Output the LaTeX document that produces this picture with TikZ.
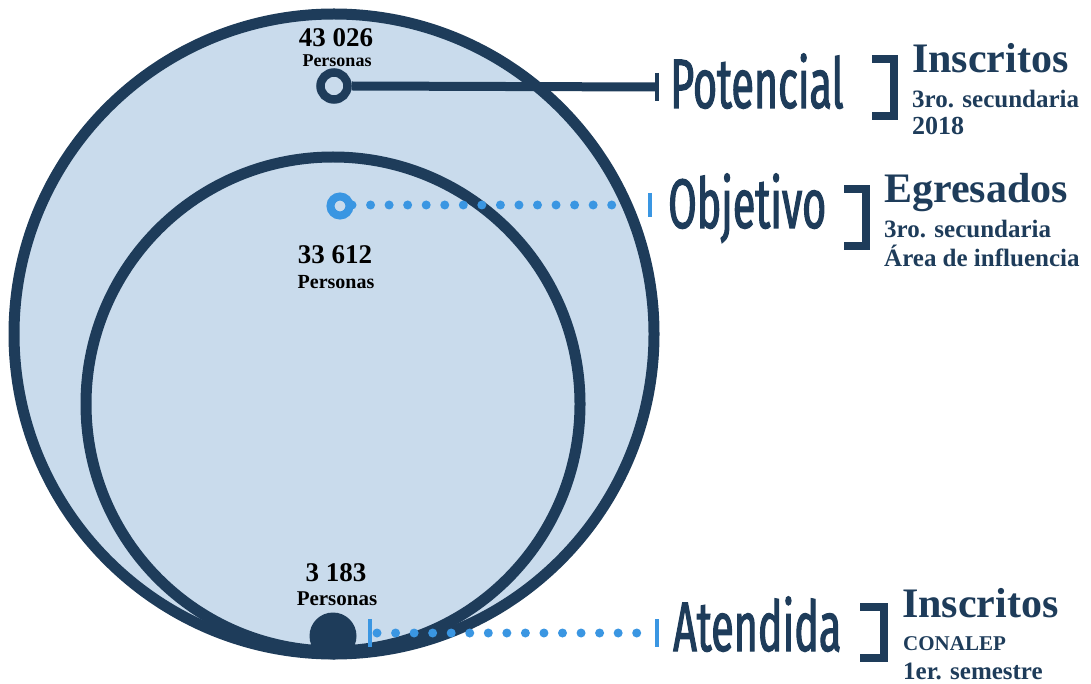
\documentclass[tikz,border=0pt]{standalone}
\usepackage{fontspec}
\setmainfont{Liberation Serif}
\newfontfamily\condfont[FakeStretch=0.59,FakeBold=1.5]{Fira Sans}
\usetikzlibrary{positioning,calc}

\definecolor{navy}{RGB}{30,60,90}
\definecolor{pale}{RGB}{201,219,236}
\definecolor{sky}{RGB}{58,150,226}

\tikzset{
  ring/.style={circle,draw=#1,inner sep=0pt,fill=pale},
  num/.style={anchor=base,text=black,font=\bfseries\fontsize{27}{30}\selectfont},
  pers/.style={anchor=base,text=black,font=\bfseries\fontsize{#1}{#1}\selectfont},
  tag/.style={anchor=base west,text=navy,font=\condfont\fontsize{70}{70}\selectfont,inner sep=0pt},
  head/.style={anchor=base west,text=navy,font=\bfseries\fontsize{42}{42}\selectfont,inner sep=0pt},
  sub/.style={anchor=base west,text=navy,font=\bfseries\fontsize{#1}{#1}\selectfont,inner sep=0pt},
  dots/.style={sky,line width=9pt,line cap=round,dash pattern=on 0pt off 18.55pt},
  tick/.style={line width=4.5pt},
  brk/.style={navy,line width=8pt}
}

\begin{document}
\begin{tikzpicture}[x=1pt,y=-1pt]
  \useasboundingbox (0,0) rectangle (1091,684);

  % Circles
  \draw[navy,fill=pale,line width=11pt] (334,334) circle (320);
  \draw[navy,line width=11pt] (333,404) circle (247);

  % Markers
  \node[ring=navy,line width=8.5pt,minimum size=27pt] (pot) at (334,86) {};
  \node[ring=sky,line width=8pt,minimum size=19pt] (obj) at (340,206) {};
  \node[circle,fill=navy,inner sep=0pt,minimum size=47pt] (ate) at (333,636) {};

  % Potencial line
  \coordinate (potend) at (657,87);
  \draw[navy,line width=9pt] (pot.east) -- (potend);
  \draw[navy,tick] ($(potend)+(0,-14)$) -- ($(potend)+(0,14)$);

  % Objetivo line
  \coordinate (objend) at (650,205);
  \draw[dots] (352,205) -- (630.1,205);
  \draw[sky,tick] ($(objend)+(0,-12)$) -- ($(objend)+(0,12)$);

  % Atendida line
  \coordinate (atebeg) at (370,633);
  \coordinate (ateend) at (657,633);
  \draw[sky,tick] ($(atebeg)+(0,-14)$) -- ($(atebeg)+(0,14)$);
  \draw[dots] (377,633) -- (637.1,633);
  \draw[sky,tick] ($(ateend)+(0,-14)$) -- ($(ateend)+(0,14)$);

  % Numbers
  \node[num] (potnum) at (336,47) {43 026};
  \node[pers=18] (potper) at (337,67) {Personas};
  \node[num] (objnum) at (335,264) {33 612};
  \node[pers=20] (objper) at (336,288) {Personas};
  \node[num] (atenum) at (336,581) {3 183};
  \node[pers=21] (ateper) at (337,605) {Personas};

  % Labels
  \node[tag] (potlbl) at (670,108) {Potencial};
  \node[tag] (objlbl) at (668,228) {Objetivo};
  \node[tag] (atelbl) at (673,651) {Atendida};

  % Brackets
  \draw[brk] (872,59) -- (894,59) -- (894,116) -- (872,116);
  \draw[brk] (844,189) -- (866,189) -- (866,246) -- (844,246);
  \draw[brk] (860,607) -- (884,607) -- (884,658) -- (860,658);

  % Descriptions
  \node[head] (pothd) at (912,73) {Inscritos};
  \node[sub=25] (potsa) at (912,108) {3ro. secundaria};
  \node[sub=26] (potsb) at (912,135) {2018};
  \node[head] (objhd) at (884,203) {Egresados};
  \node[sub=25] (objsa) at (884,238) {3ro. secundaria};
  \node[sub=25] (objsb) at (884,267) {Área de influencia};
  \node[head] (atehd) at (902,617) {Inscritos};
  \node[sub=21] (atesa) at (903,650) {CONALEP};
  \node[sub=25] (atesb) at (903,679) {1er. semestre};

\end{tikzpicture}
\end{document}
